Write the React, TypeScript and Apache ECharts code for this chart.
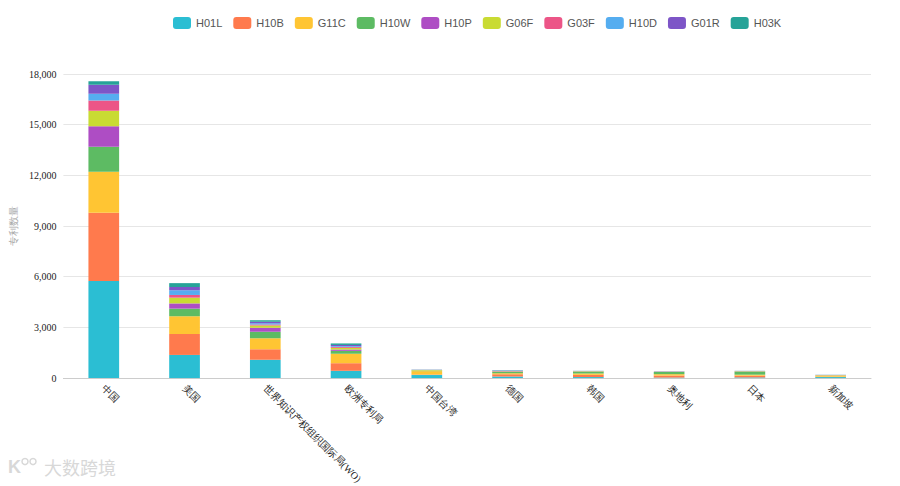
import React, { useEffect, useRef } from "react";
import * as echarts from "echarts";

const categories = [
  "中国",
  "美国",
  "世界知识产权组织国际局(WO)",
  "欧洲专利局",
  "中国台湾",
  "德国",
  "韩国",
  "奥地利",
  "日本",
  "新加坡",
];

const seriesNames = ["H01L", "H10B", "G11C", "H10W", "H10P", "G06F", "G03F", "H10D", "G01R", "H03K"];

const H01L = [5750, 1370, 1080, 430, 180, 100, 60, 30, 40, 60];
const H10B = [4030, 1240, 630, 450, 30, 120, 130, 120, 100, 20];
const G11C = [2440, 1050, 650, 560, 200, 70, 80, 80, 60, 70];
const H10W = [1480, 450, 380, 170, 20, 90, 110, 130, 180, 10];
const H10P = [1200, 310, 240, 80, 10, 10, 10, 10, 10, 5];
const G06F = [920, 340, 130, 100, 40, 20, 20, 10, 20, 10];
const G03F = [610, 160, 60, 60, 5, 10, 5, 5, 5, 5];
const H10D = [400, 280, 70, 50, 10, 20, 5, 5, 5, 5];
const G01R = [530, 190, 90, 60, 5, 10, 5, 5, 5, 5];
const H03K = [210, 230, 90, 90, 5, 20, 5, 5, 5, 5];

const seriesValues = [H01L, H10B, G11C, H10W, H10P, G06F, G03F, H10D, G01R, H03K];

const palette = [
  "#2BBED3",
  "#FF7A4D",
  "#FFC533",
  "#5DBB63",
  "#AE4DC4",
  "#C9DB33",
  "#EC5587",
  "#55ADF0",
  "#7D55C7",
  "#26A398",
];

const yTicks = [0, 3000, 6000, 9000, 12000, 15000, 18000];

export default function App() {
  const ref = useRef<HTMLDivElement>(null);

  useEffect(() => {
    document.body.style.margin = "0";
    if (!ref.current) return;
    const chart = echarts.init(ref.current, undefined, { renderer: "svg" });
    chart.setOption({
      animation: false,
      backgroundColor: "#ffffff",
      color: palette,
      legend: {
        top: 12,
        left: 168,
        itemWidth: 18,
        itemHeight: 12,
        itemGap: 11,
        icon: "roundRect",
        textStyle: { fontSize: 11, color: "#555", fontFamily: "Liberation Sans, Arial, sans-serif" },
        data: seriesNames,
      },
      grid: { left: 56, right: 29, top: 74, bottom: 103, containLabel: false },
      xAxis: {
        type: "category",
        data: categories,
        axisLine: { lineStyle: { color: "#ccc" } },
        axisTick: { show: false },
        axisLabel: {
          rotate: -45,
          interval: 0,
          fontSize: 10,
          color: "#222",
          margin: 8,
          fontFamily: "serif",
        },
      },
      yAxis: {
        type: "value",
        min: yTicks[0],
        max: yTicks[yTicks.length - 1],
        interval: 3000,
        name: "专利数量",
        nameLocation: "middle",
        nameGap: 26,
        nameTextStyle: { color: "#aaa", fontSize: 10, fontFamily: "serif" },
        axisLine: { show: false },
        axisTick: { show: false },
        splitLine: { lineStyle: { color: "#e6e6e6" } },
        axisLabel: {
          fontSize: 10,
          color: "#222",
          margin: 7,
          fontFamily: "Liberation Serif, serif",
          formatter: (v: number) => v.toLocaleString("en-US"),
        },
      },
      series: seriesNames.map((name, i) => ({
        name,
        type: "bar",
        stack: "total",
        barWidth: "38%",
        data: seriesValues[i],
      })),
      graphic: [
        {
          type: "group",
          left: 8,
          top: 456,
          children: [
            {
              type: "text",
              x: 0,
              y: 0,
              style: { text: "K", fontSize: 18, fill: "#d8d8d8", fontWeight: "bold", fontFamily: "Liberation Sans, sans-serif" },
            },
            { type: "circle", shape: { cx: 17, cy: 4, r: 3 }, style: { fill: "none", stroke: "#d8d8d8", lineWidth: 1.5 } },
            { type: "circle", shape: { cx: 25, cy: 4, r: 3 }, style: { fill: "none", stroke: "#d8d8d8", lineWidth: 1.5 } },
            {
              type: "text",
              x: 36,
              y: 0,
              style: { text: "大数跨境", fontSize: 18, fill: "#d8d8d8", fontFamily: "Noto Sans CJK SC, sans-serif" },
            },
          ],
        },
      ],
    });
    return () => chart.dispose();
  }, []);

  return <div ref={ref} style={{ width: 900, height: 486 }} />;
}
